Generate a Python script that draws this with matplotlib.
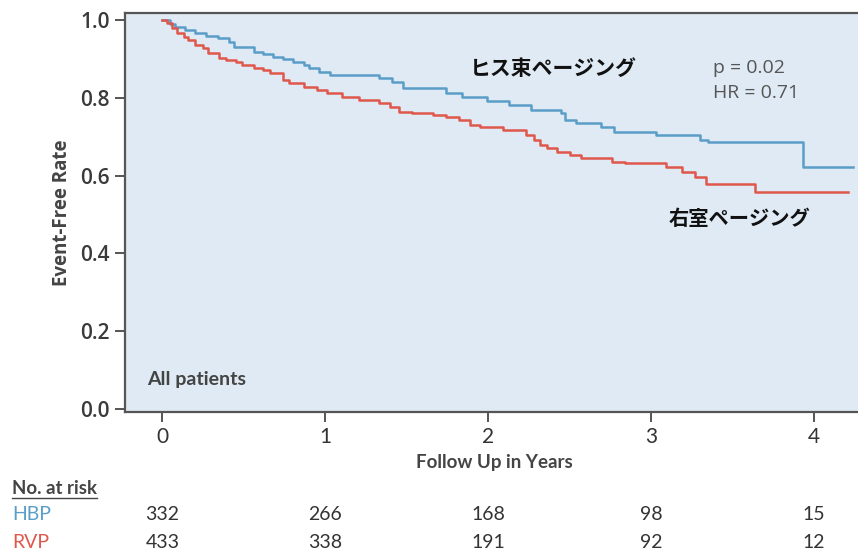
import matplotlib.pyplot as plt
from matplotlib.transforms import blended_transform_factory

# Kaplan-Meier step curves (years, event-free rate)
hbp_t = [0.00, 0.05, 0.08, 0.14, 0.20, 0.27, 0.34, 0.41, 0.44, 0.56, 0.62,
         0.68, 0.74, 0.80, 0.87, 0.90, 0.96, 1.03, 1.33, 1.41, 1.48, 1.74,
         1.84, 1.99, 2.13, 2.26, 2.45, 2.47, 2.54, 2.69, 2.77, 3.03, 3.30,
         3.35, 3.93, 4.24]
hbp_s = [1.000, 0.990, 0.982, 0.974, 0.967, 0.959, 0.954, 0.943, 0.931,
         0.918, 0.913, 0.905, 0.900, 0.892, 0.884, 0.877, 0.866, 0.860,
         0.852, 0.841, 0.825, 0.812, 0.802, 0.792, 0.781, 0.769, 0.761,
         0.743, 0.735, 0.725, 0.712, 0.704, 0.692, 0.686, 0.622, 0.622]

rvp_t = [0.00, 0.03, 0.06, 0.09, 0.13, 0.16, 0.20, 0.25, 0.28, 0.35, 0.39,
         0.45, 0.49, 0.56, 0.62, 0.66, 0.74, 0.78, 0.87, 0.95, 1.01, 1.10,
         1.21, 1.33, 1.40, 1.45, 1.53, 1.66, 1.74, 1.82, 1.89, 1.95, 2.09,
         2.23, 2.28, 2.32, 2.36, 2.42, 2.50, 2.57, 2.76, 2.84, 3.09, 3.19,
         3.27, 3.34, 3.64, 4.21]
rvp_s = [1.000, 0.992, 0.979, 0.967, 0.956, 0.949, 0.936, 0.928, 0.915,
         0.902, 0.897, 0.892, 0.884, 0.877, 0.871, 0.864, 0.846, 0.838,
         0.828, 0.820, 0.812, 0.802, 0.794, 0.787, 0.776, 0.764, 0.761,
         0.756, 0.751, 0.743, 0.730, 0.725, 0.717, 0.704, 0.692, 0.679,
         0.671, 0.661, 0.653, 0.645, 0.635, 0.632, 0.622, 0.609, 0.596,
         0.578, 0.558, 0.558]

risk_times = [0, 1, 2, 3, 4]
hbp_risk = [332, 266, 168, 98, 15]
rvp_risk = [433, 338, 191, 92, 12]

blue = '#5a9ec8'
red = '#e0574b'
grey = '#444444'
jp = ['Noto Sans CJK JP', 'DejaVu Sans']

fig = plt.figure(figsize=(8.58, 5.5), dpi=100)
ax = fig.add_axes([0.1457, 0.251, 0.86, 0.725])
ax.set_facecolor('#dfeaf4')

ax.step(hbp_t, hbp_s, where='post', color=blue, lw=1.8)
ax.step(rvp_t, rvp_s, where='post', color=red, lw=1.8)

ax.set_xlim(-0.229, 4.30)
ax.set_ylim(-0.008, 1.018)
ax.set_xticks(risk_times)
ax.set_yticks([0.0, 0.2, 0.4, 0.6, 0.8, 1.0])
ax.set_yticklabels(['0.0', '0.2', '0.4', '0.6', '0.8', '1.0'],
                   fontfamily='Open Sans', fontweight='semibold',
                   fontsize=15, color='#3a3a3a')
ax.set_xticklabels([str(t) for t in risk_times], fontfamily='Lato',
                   fontsize=15, color='#333333')
ax.tick_params(axis='both', length=7, width=1.4, color='#555555', pad=4)

for side in ['left', 'bottom', 'top']:
    ax.spines[side].set_color('#555555')
    ax.spines[side].set_linewidth(1.6)
ax.spines['right'].set_visible(False)

ax.set_ylabel('Event-Free Rate', fontfamily='Open Sans', fontweight='bold',
              fontsize=13.5, color=grey, labelpad=6)
ax.set_xlabel('Follow Up in Years', fontfamily='Lato', fontweight='bold',
              fontsize=13.5, color=grey, labelpad=5)

ax.text(1.89, 0.877, 'ヒス束ページング', family=jp, fontweight='bold',
        fontsize=15, color='#111111', va='center', ha='left')
ax.text(3.11, 0.491, '右室ページング', family=jp, fontweight='bold',
        fontsize=14.6, color='#111111', va='center', ha='left')
ax.text(3.38, 0.877, 'p = 0.02', fontfamily='Open Sans', fontsize=14,
        color='#555555', va='center')
ax.text(3.38, 0.813, 'HR = 0.71', fontfamily='Open Sans', fontsize=14,
        color='#555555', va='center')
ax.text(-0.095, 0.075, 'All patients', fontfamily='Lato', fontweight='bold',
        fontsize=14, color=grey, va='center')

# number at risk table
tr = blended_transform_factory(ax.transData, fig.transFigure)
fig.text(0.014, 1 - 488 / 550, 'No. at risk', fontfamily='Lato',
         fontweight='bold', fontsize=13.4, color=grey, va='center')
fig.add_artist(plt.Line2D([0.014, 0.113], [1 - 498 / 550, 1 - 498 / 550],
                          color=grey, lw=1.0))
fig.text(0.014, 1 - 515 / 550, 'HBP', fontfamily='Lato', fontsize=14,
         color=blue, va='center')
fig.text(0.014, 1 - 542 / 550, 'RVP', fontfamily='Lato', fontsize=14,
         color=red, va='center')
for t, h, r in zip(risk_times, hbp_risk, rvp_risk):
    ax.text(t, 1 - 515 / 550, str(h), transform=tr, ha='center', va='center',
            fontfamily='Lato', fontsize=14, color='#333333')
    ax.text(t, 1 - 542 / 550, str(r), transform=tr, ha='center', va='center',
            fontfamily='Lato', fontsize=14, color='#333333')

fig.savefig('out.png', dpi=100)
